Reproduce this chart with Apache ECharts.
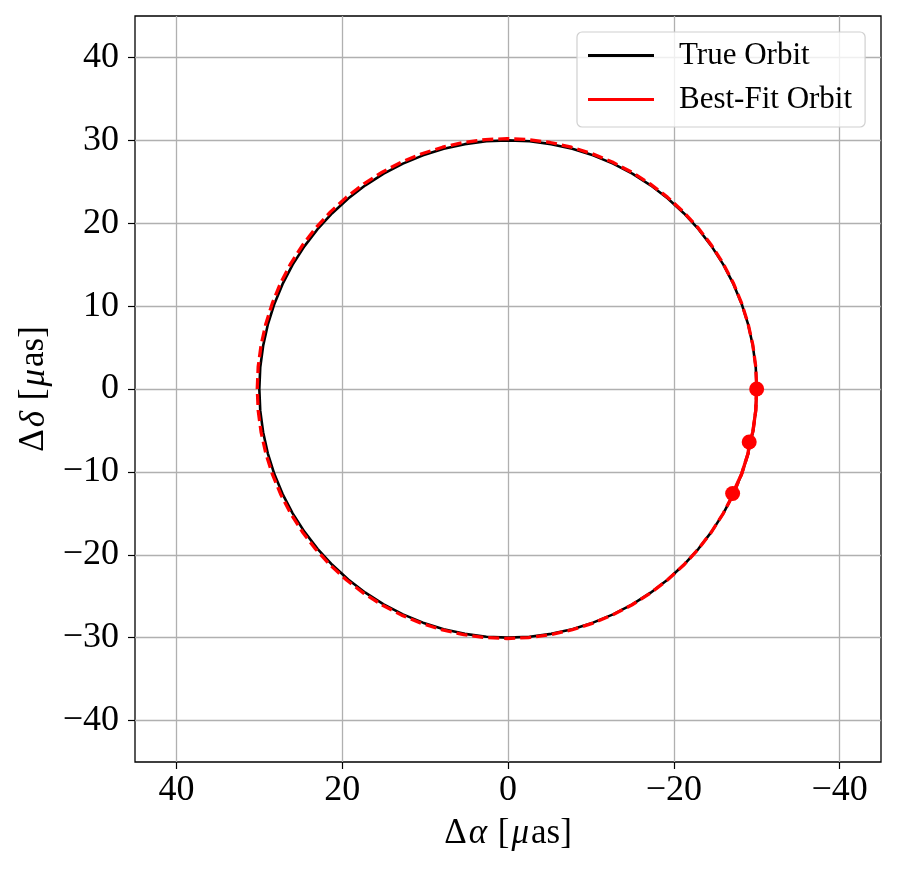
<!DOCTYPE html>
<html>
<head>
<meta charset="utf-8">
<script src="https://cdn.jsdelivr.net/npm/echarts@6/dist/echarts.min.js"></script>
<style>html,body{margin:0;padding:0;background:#fff;}#c{width:897px;height:869px;}</style>
</head>
<body>
<div id="c"></div>
<script>
// True orbit
const trueX = [-30.00,-29.89,-29.54,-28.98,-28.19,-27.19,-25.98,-24.57,-22.98,-21.21,-19.28,-17.21,-15.00,-12.68,-10.26,-7.76,-5.21,-2.61,0.00,
  2.61,5.21,7.76,10.26,12.68,15.00,17.21,19.28,21.21,22.98,24.57,25.98,27.19,28.19,28.98,29.54,29.89,30.00,
  29.89,29.54,28.98,28.19,27.19,25.98,24.57,22.98,21.21,19.28,17.21,15.00,12.68,10.26,7.76,5.21,2.61,0.00,
  -2.61,-5.21,-7.76,-10.26,-12.68,-15.00,-17.21,-19.28,-21.21,-22.98,-24.57,-25.98,-27.19,-28.19,-28.98,-29.54,-29.89,-30.00];
const trueY = [0.00,-2.61,-5.21,-7.76,-10.26,-12.68,-15.00,-17.21,-19.28,-21.21,-22.98,-24.57,-25.98,-27.19,-28.19,-28.98,-29.54,-29.89,-30.00,
  -29.89,-29.54,-28.98,-28.19,-27.19,-25.98,-24.57,-22.98,-21.21,-19.28,-17.21,-15.00,-12.68,-10.26,-7.76,-5.21,-2.61,0.00,
  2.61,5.21,7.76,10.26,12.68,15.00,17.21,19.28,21.21,22.98,24.57,25.98,27.19,28.19,28.98,29.54,29.89,30.00,
  29.89,29.54,28.98,28.19,27.19,25.98,24.57,22.98,21.21,19.28,17.21,15.00,12.68,10.26,7.76,5.21,2.61,0.00];
// Best-fit orbit
const fitX = [-30.00,-29.89,-29.54,-28.97,-28.18,-27.18,-25.96,-24.55,-22.95,-21.17,-19.23,-17.14,-14.93,-12.59,-10.16,-7.65,-5.09,-2.48,0.10,
  2.73,5.34,7.90,10.41,12.84,15.18,17.39,19.48,21.42,23.20,24.80,26.21,27.43,28.43,29.22,29.79,30.14,30.25,
  30.14,29.79,29.22,28.43,27.43,26.21,24.80,23.20,21.42,19.48,17.39,15.18,12.84,10.41,7.90,5.34,2.73,0.10,
  -2.48,-5.09,-7.65,-10.16,-12.59,-14.93,-17.14,-19.23,-21.17,-22.95,-24.55,-25.96,-27.18,-28.18,-28.97,-29.54,-29.89,-30.00];
const fitY = [0.05,-2.58,-5.19,-7.75,-10.26,-12.69,-15.03,-17.24,-19.33,-21.27,-23.05,-24.65,-26.06,-27.28,-28.28,-29.07,-29.64,-29.99,-30.10,
  -29.99,-29.64,-29.07,-28.28,-27.28,-26.06,-24.65,-23.05,-21.27,-19.33,-17.24,-15.03,-12.69,-10.26,-7.75,-5.19,-2.58,0.05,
  2.68,5.29,7.85,10.36,12.79,15.13,17.34,19.43,21.37,23.15,24.75,26.16,27.38,28.38,29.17,29.74,30.09,30.20,
  30.09,29.74,29.17,28.38,27.38,26.16,24.75,23.15,21.37,19.43,17.34,15.13,12.79,10.36,7.85,5.29,2.68,0.05];
// Observed arc (solid red)
const arcX = [-30.00,-29.89,-29.54,-29.10,-28.97,-28.18,-27.10];
const arcY = [0.00,-2.58,-5.19,-6.40,-7.75,-10.26,-12.60];
// Observations
const obsX = [-30.0,-29.1,-27.1];
const obsY = [0.0,-6.4,-12.6];
// Ticks
const xTicks = [40,20,0,-20,-40];
const yTicks = [-40,-30,-20,-10,0,10,20,30,40];

const zip = (a,b) => a.map((v,i)=>[v,b[i]]);
const FONT = '"Liberation Serif", "DejaVu Serif", serif';
const fmt = v => v < 0 ? '\u2212' + (-v) : String(v);
const titleRich = {
  i:{fontFamily:FONT, fontSize:35, fontStyle:'italic', color:'#000', padding:[0,2,0,2]}
};

const chart = echarts.init(document.getElementById('c'), null, {renderer:'canvas'});
chart.setOption({
  animation:false,
  backgroundColor:'#fff',
  grid:{left:135, top:16, width:746, height:746, show:true, borderColor:'#000', borderWidth:1.3, backgroundColor:'transparent', containLabel:false},
  xAxis:{type:'value', min:-45, max:45, inverse:true, splitNumber:4,
    axisLine:{show:false, onZero:false},
    axisTick:{show:true, length:7, customValues:xTicks, lineStyle:{color:'#000', width:1.2}},
    axisLabel:{customValues:xTicks, formatter:fmt, fontFamily:FONT, fontSize:36, color:'#000', margin:11},
    splitLine:{show:true, lineStyle:{color:'#b0b0b0', width:1.3}},
    name:'Δ{i|α} [{i|μ}as]', nameLocation:'middle', nameGap:54,
    nameTextStyle:{fontFamily:FONT, fontSize:35, color:'#000', rich:titleRich}
  },
  yAxis:{type:'value', min:-45, max:45, splitNumber:9,
    axisLine:{show:false, onZero:false},
    axisTick:{show:true, length:7, customValues:yTicks, lineStyle:{color:'#000', width:1.2}},
    axisLabel:{customValues:yTicks, formatter:fmt, fontFamily:FONT, fontSize:36, color:'#000', margin:16},
    splitLine:{show:true, lineStyle:{color:'#b0b0b0', width:1.3}},
    name:'Δ{i|δ} [{i|μ}as]', nameLocation:'middle', nameGap:72, nameRotate:90,
    nameTextStyle:{fontFamily:FONT, fontSize:35, color:'#000', rich:titleRich}
  },
  legend:{orient:'vertical', left:577, top:32, padding:[8,13,12,11], itemGap:13, itemWidth:66, itemHeight:3, icon:'rect',
    borderColor:'#d0d0d0', borderWidth:1.2, borderRadius:5, backgroundColor:'rgba(255,255,255,0.8)',
    textStyle:{fontFamily:FONT, fontSize:31, color:'#000', padding:[0,0,0,20]},
    data:['True Orbit','Best-Fit Orbit']},
  series:[
    {name:'True Orbit', type:'line', data:zip(trueX,trueY), showSymbol:false, symbol:'none', smooth:false,
      lineStyle:{color:'#000', width:2.6}, itemStyle:{color:'#000'}, z:2, silent:true},
    {name:'fit', type:'line', data:zip(fitX,fitY), showSymbol:false, symbol:'none',
      lineStyle:{color:'#ff0000', width:3.3, type:[11,5]}, itemStyle:{color:'#ff0000'}, z:3, silent:true},
    {name:'Best-Fit Orbit', type:'line', data:zip(arcX,arcY), showSymbol:false, symbol:'none',
      lineStyle:{color:'#ff0000', width:3.3}, itemStyle:{color:'#ff0000'}, z:4, silent:true},
    {name:'obs', type:'scatter', data:zip(obsX,obsY), symbol:'circle', symbolSize:15,
      itemStyle:{color:'#ff0000', opacity:1}, z:5, silent:true}
  ]
});
</script>
</body>
</html>
